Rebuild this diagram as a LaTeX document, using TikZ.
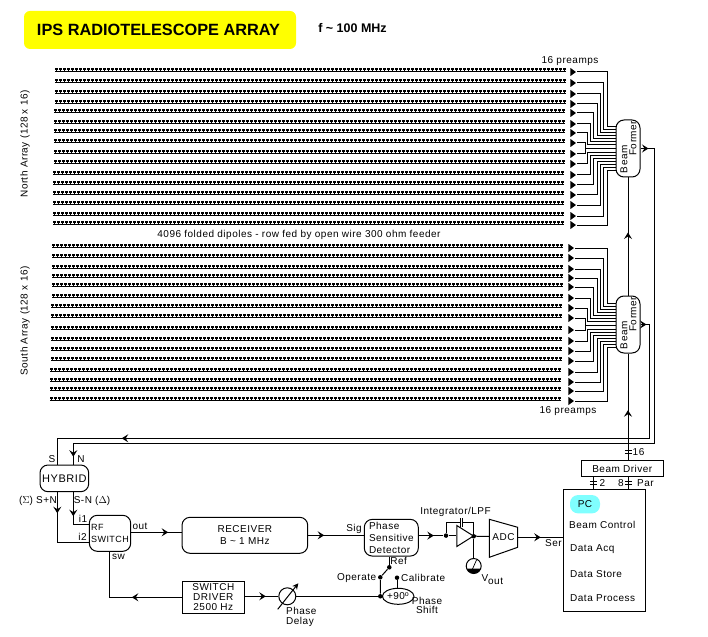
\documentclass[tikz,border=0pt]{standalone}
\usepackage{fontspec}
\setmainfont[LetterSpace=5]{Liberation Sans}
\newfontfamily\titlefont{Liberation Sans}
\usepackage{xcolor}
\definecolor{titleyellow}{RGB}{255,255,0}
\definecolor{pccyan}{RGB}{128,255,255}
\usetikzlibrary{arrows.meta, positioning, shapes.geometric, calc, decorations.markings}
\newcommand{\lblfont}{\fontsize{10}{12}\selectfont}

\begin{document}
\begin{tikzpicture}[x=1pt, y=-1pt, line width=1pt,
  every node/.style={font=\lblfont, inner sep=0pt},
  block/.style={draw, rounded corners=8pt, align=center},
  leftblock/.style={block, align=left},
  square/.style={draw, align=center},
  preamp/.style={isosceles triangle, isosceles triangle stretches, fill=black,
                 minimum width=8pt, minimum height=5.5pt},
  dipbar/.style={line width=1.4pt, dash pattern=on 3pt off 1pt},
  dipstem/.style={line width=1.4pt, dash pattern=on 1.4pt off 2.6pt, dash phase=3pt},
  dipline/.style={line width=1.6pt},
  dot/.style={circle, fill=black, minimum size=4.5pt},
  midarrow/.style={postaction={decorate}, postaction={decorate, decoration={markings,
                   mark=at position #1 with {\arrow{Stealth[length=6.5pt, width=8pt, inset=2.5pt]}}}}}
]
\useasboundingbox (0,0) rectangle (708,636);

\node[fill=titleyellow, rounded corners=6pt, minimum width=272pt, minimum height=38pt,
      font=\titlefont\bfseries\fontsize{16.3}{18}\selectfont, text height=12pt, text depth=0pt] (title) at (160,30) {\hspace{-3pt}IPS RADIOTELESCOPE ARRAY};
\node[font=\titlefont\bfseries\fontsize{12.5}{14}\selectfont] (freq) at (352.5,28) {f \textasciitilde{} 100 MHz};

\node[rotate=90] (nlabel) at (25,144) {North Array (128 x 16)};
\node[rotate=90] (slabel) at (25,321) {South Array (128 x 16)};
\node (npre) at (570,60.7) {16 preamps};
\node (spre) at (568,411) {16 preamps};
\node (feeder) at (299,235) {4096 folded dipoles - row fed by open wire 300 ohm feeder};

% dipole rows and preamps
\foreach \a/\xt/\rows in {n/572.5/{72,83,94,104,113,124,133,143,154,164,175,185,195,205,216,225},
                          s/570.5/{248,258,269,278,287,298,308,318,330,341,351,361,372,382,391,401}} {
  \foreach \y [count=\i] in \rows {
    \pgfmathsetmacro\rl{round(55-(\y-72)*0.0152)}
    \pgfmathsetmacro\rr{round(566-(\y-72)*0.0152)}
    \draw[dipbar] (\rl,\y-3) -- (\rr,\y-3);
    \draw[dipstem] (\rl,\y-1.8) -- (\rr,\y-1.8);
    \draw[dipline] (\rl,\y-0.6) -- (\rr,\y-0.6);
    \node[preamp] (\a\i) at (\xt,\y) {};
  }
}

\node[block, minimum width=24pt, minimum height=57pt] (nbf) at (628,148.5) {};
\node[block, minimum width=24pt, minimum height=57pt] (sbf) at (628,324.5) {};
\foreach \a/\dy in {n/0,s/176} {
  \node[rotate=90] (\a beam) at (624,159.3+\dy) {Beam};
  \node[rotate=90] (\a former) at (633,138.3+\dy) {Former};
  \foreach \i/\vx/\ey in {1/607/127,2/603.5/130,3/600/133,4/597/136,5/593.5/139,6/590/142,7/587.5/145,
                          10/587.5/153,11/590/156,12/593.5/159,13/597/162,14/600/165,15/603.5/168,16/607/171} {
    \pgfmathsetmacro\ee{\ey+\dy}
    \draw (\a\i.apex) -| (\vx,\ee) -- (\a bf.west |- 0,\ee);
  }
  \pgfmathsetmacro\em{149+\dy}
  \draw (\a8.apex) -| (585.3,\em) |- (\a9.apex);
  \draw (585.3,\em) -- (\a bf.west |- 0,\em);
}

% lower chain
\node[block, minimum width=48.7pt, minimum height=26.7pt, font=\fontsize{11}{12}\selectfont] (hybrid) at (64.35,478.35) {HYBRID};
\node[leftblock, minimum width=41.4pt, minimum height=36pt, font=\fontsize{9}{12}\selectfont] (rfsw) at (110,533.3) {RF\\SWITCH};
\node[block, minimum width=125.7pt, minimum height=36pt] (rx) at (244.85,535.3) {RECEIVER\\B \textasciitilde{} 1 MHz};
\node[leftblock, minimum width=54pt, minimum height=36.7pt] (psd) at (391.3,537.7) {Phase\\Sensitive\\Detector};
\node[square, minimum width=62pt, minimum height=32pt] (swdrv) at (213.3,597.3) {SWITCH\\[-2pt]DRIVER\\[-2pt]2500 Hz};
\node[square, minimum width=82pt, minimum height=15.6pt] (bdrv) at (622.3,468.5) {Beam Driver};
\node[square, minimum width=82pt, minimum height=122pt] (pc) at (604.3,550.3) {};
\node[fill=pccyan, rounded corners=8pt, minimum width=30pt, minimum height=18.3pt] (pclabel) at (585,504.2) {PC};
\node[anchor=west] (pc1) at (568.7,524.7) {Beam Control};
\node[anchor=west] (pc2) at (569.7,548.7) {Data Acq};
\node[anchor=west] (pc3) at (569.7,573.7) {Data Store};
\node[anchor=west] (pc4) at (569.7,597.7) {Data Process};

\coordinate (sturn) at (649.7,438.3);
\coordinate (nturn) at (654.3,443.3);
\draw[midarrow=6pt, midarrow=651pt] (sbf.east) -| (sturn) -| (57.3,0 |- hybrid.north);
\draw[midarrow=8pt, midarrow=903pt] (nbf.east) -| (nturn) -| (73.3,0 |- hybrid.north);
\draw[midarrow=63pt] (sbf.north) -- (nbf.south);
\draw[midarrow=50pt] (sbf.south |- bdrv.north) -- (sbf.south);

\node (lbls) at (52,459) {S};
\node (lbln) at (81,459) {N};
\node (lblsum) at (38,501) {($\Sigma$) S+N};
\node (lbldiff) at (92,501) {S-N ($\Delta$)};
\node (lbli1) at (83,518.7) {i1};
\node (lbli2) at (82.5,536.7) {i2};
\node (lblout) at (140,526.7) {out};
\node (lblsw) at (118.5,557.3) {sw};
\draw[midarrow=21pt] (57.3,0 |- hybrid.south) |- (rfsw.west |- 0,542.3);
\draw[midarrow=24pt] (73.3,0 |- hybrid.south) |- (rfsw.west |- 0,524.3);
\draw[midarrow=37pt] (rfsw.east |- 0,532.3) -- (rx.west |- 0,532.3);
\draw[midarrow=50pt] (swdrv.west) -| (109.3,0 |- rfsw.south);

\node (lblsig) at (354,529) {Sig};
\draw[midarrow=16pt] (rx.east) -- (psd.west |- rx.east);

% integrator
\node[draw, isosceles triangle, isosceles triangle stretches, minimum width=21pt, minimum height=16.7pt] (opamp) at (462.6,536) {};
\node[dot] (indot) at (446,535.6) {};
\node[dot] (outdot) at (473.7,536.3) {};
\node (lblint) at (455.5,511.7) {Integrator/LPF};
\draw[midarrow=15pt] (psd.east |- indot) -- (indot);
\draw (indot) -- (opamp.west |- indot);
\draw (indot) |- (460,522.7) (462.7,522.7) -| (outdot);
\draw (460,518.3) -- (460,526.7) (462.7,518.3) -- (462.7,526.7);
\draw (opamp.apex) -- (outdot);

\draw (489.3,519.3) -- (517.7,527.3) -- (517.7,547.3) -- (489.3,557.3) -- cycle;
\node (adc) at (503.5,537) {ADC};
\coordinate (adcin) at (489.3,536.5);
\coordinate (adcout) at (517.7,537.3);
\draw (outdot) -- (adcin);
\draw[midarrow=23pt] (adcout) -- (pc.west |- adcout);
\node (lblser) at (553.5,543.5) {Ser};

% meter
\node[draw, circle, minimum size=15pt] (meter) at (473.7,566) {};
\draw (outdot) -- (meter.north);
\fill (466.6,568.5) arc[start angle=200, end angle=340, radius=7.5pt] -- cycle;
\draw[line width=0.7pt] (472.5,569) -- (476.5,560);
\node[anchor=west] (vout) at (481,580) {V\raisebox{-3pt}{out}};

% reference path
\node[dot] (refdot) at (389.3,567.3) {};
\node[dot] (opdot) at (380.3,577.3) {};
\node[dot] (caldot) at (397,577.7) {};
\node[dot] (joindot) at (380.3,596.3) {};
\node[draw, ellipse, minimum width=25.7pt, minimum height=16pt] (shift) at (398.2,596.3) {+90\textsuperscript{o}};
\node (lblref) at (398.7,561.3) {Ref};
\node[anchor=east] (lblop) at (376.7,577.7) {Operate};
\node[anchor=west] (lblcal) at (400.7,577.7) {Calibrate};
\node[align=center] (lblshift) at (427,605) {Phase\\[-3pt]Shift};
\draw (refdot |- psd.south) -- (refdot);
\draw (refdot) -- (opdot) -- (joindot) -- (shift);
\draw (caldot) -- (shift.north -| caldot);

\node[draw, circle, minimum size=17pt] (delay) at (287.3,596.3) {};
\node[align=left, anchor=north west] (lbldelay) at (285.7,606.5) {Phase\\[-2pt]Delay};
\coordinate (delayfrom) at (277.7,609.3);
\coordinate (delayto) at (298.3,583.3);
\draw[-{Stealth[length=6pt, width=6pt]}] (delayfrom) -- (delayto);
\draw[midarrow=21pt] (swdrv.east |- delay) -- (delay);
\draw (delay) -- (joindot);

% bus marks
\foreach \px/\py in {628.3/451.7, 593.3/482.8, 628.3/482.8} {
  \draw[line width=0.8pt] (\px-3.5,\py-1.2) -- (\px+3.5,\py-1.2) (\px-3.5,\py+1.2) -- (\px+3.5,\py+1.2);
}
\draw (593.3,0 |- bdrv.south) -- (593.3,0 |- pc.north);
\draw (sbf.south |- bdrv.south) -- (sbf.south |- pc.north);
\node (lbl16) at (638.5,451.7) {16};
\node (lbl2) at (602.3,482.7) {2};
\node (lbl8) at (621,482.7) {8};
\node (lblpar) at (645.5,482.7) {Par};
\end{tikzpicture}
\end{document}
